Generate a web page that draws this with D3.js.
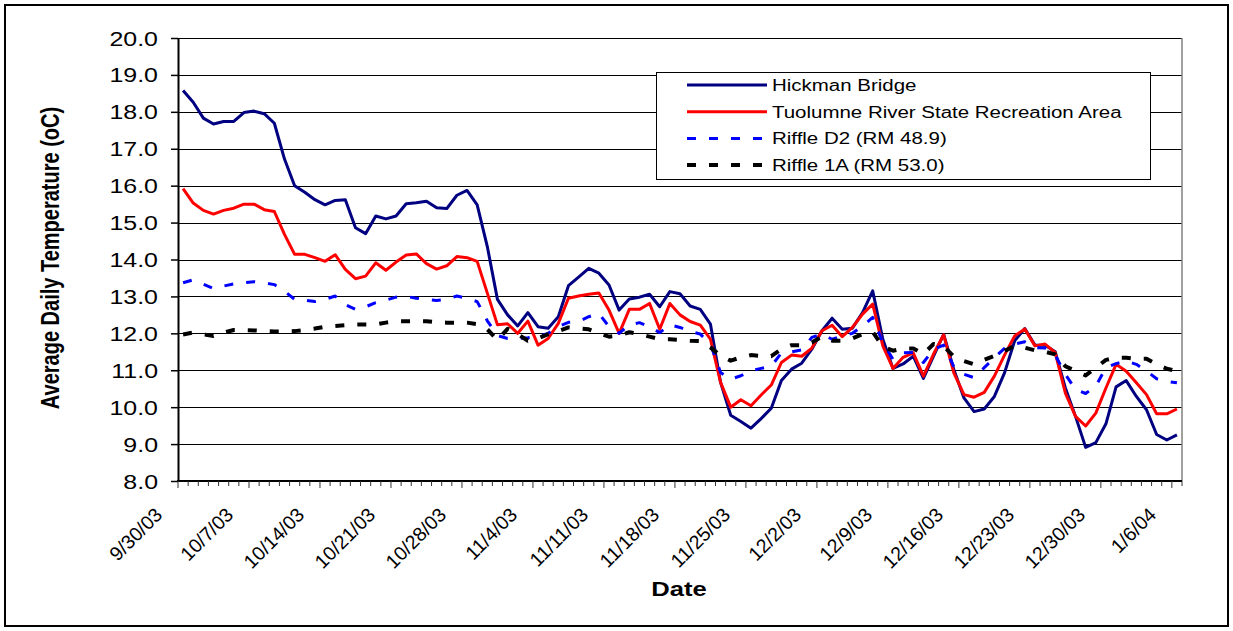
<!DOCTYPE html>
<html>
<head>
<meta charset="utf-8">
<script src="https://cdn.jsdelivr.net/npm/d3@7"></script>
<style>
  html, body { margin: 0; padding: 0; background: #fff; }
  svg { display: block; font-family: 'Liberation Sans', Arial, sans-serif; }
</style>
</head>
<body>
<div id="chart"></div>
<script>
// daily averages, 9/30/03 .. 1/6/04
const startDate = new Date(2003, 8, 30);
const dayCount = 99;

const hickman = [
  18.58, 18.26, 17.83, 17.67, 17.74, 17.74, 17.98, 18.02, 17.95, 17.69,
  16.72, 16.00, 15.82, 15.62, 15.48, 15.60, 15.62, 14.86, 14.70, 15.18,
  15.10, 15.18, 15.51, 15.54, 15.58, 15.40, 15.38, 15.74, 15.87, 15.48,
  14.35, 12.92, 12.50, 12.20, 12.56, 12.18, 12.14, 12.45, 13.29, 13.52,
  13.76, 13.63, 13.31, 12.63, 12.93, 12.98, 13.06, 12.72, 13.13, 13.07,
  12.74, 12.65, 12.25, 10.67, 9.78, 9.61, 9.43, 9.69, 9.97, 10.72,
  11.03, 11.19, 11.57, 12.07, 12.41, 12.11, 12.14, 12.56, 13.15, 11.84,
  11.05, 11.17, 11.38, 10.78, 11.38, 11.97, 11.02, 10.25, 9.88, 9.95,
  10.29, 10.93, 11.80, 12.13, 11.68, 11.68, 11.50, 10.52, 9.75, 8.91,
  9.04, 9.55, 10.55, 10.72, 10.29, 9.93, 9.26, 9.11, 9.25
];
const tuolumne = [
  15.92, 15.53, 15.33, 15.23, 15.33, 15.39, 15.50, 15.50, 15.35, 15.30,
  14.68, 14.14, 14.14, 14.05, 13.95, 14.13, 13.73, 13.48, 13.55, 13.91,
  13.71, 13.93, 14.12, 14.15, 13.89, 13.74, 13.83, 14.08, 14.05, 13.95,
  13.09, 12.23, 12.26, 12.00, 12.33, 11.68, 11.86, 12.27, 12.95, 13.01,
  13.06, 13.09, 12.63, 12.00, 12.65, 12.65, 12.81, 12.11, 12.81, 12.50,
  12.32, 12.22, 11.84, 10.67, 10.00, 10.20, 10.04, 10.33, 10.60, 11.21,
  11.41, 11.38, 11.60, 12.07, 12.22, 11.91, 12.16, 12.52, 12.79, 11.66,
  11.05, 11.35, 11.47, 10.84, 11.44, 11.96, 10.93, 10.34, 10.27, 10.40,
  10.84, 11.41, 11.93, 12.12, 11.66, 11.71, 11.48, 10.38, 9.75, 9.49,
  9.84, 10.52, 11.16, 10.97, 10.66, 10.34, 9.82, 9.82, 9.95
];
const riffleD2 = [
  13.37, 13.45, 13.33, 13.21, 13.28, 13.34, 13.37, 13.40, 13.37, 13.32,
  13.14, 12.92, 12.90, 12.86, 12.92, 13.01, 12.78, 12.65, 12.72, 12.83,
  12.90, 12.98, 13.00, 12.95, 12.92, 12.89, 12.92, 13.01, 12.95, 12.86,
  12.34, 11.94, 11.86, 11.86, 11.88, 11.91, 12.00, 12.18, 12.30, 12.32,
  12.45, 12.54, 12.18, 12.00, 12.23, 12.29, 12.18, 12.02, 12.23, 12.16,
  12.05, 11.98, 11.71, 10.94, 10.76, 10.85, 10.99, 11.05, 11.11, 11.47,
  11.50, 11.55, 11.89, 11.98, 11.84, 11.93, 12.00, 12.20, 12.43, 11.75,
  11.30, 11.47, 11.48, 11.21, 11.57, 11.68, 11.10, 10.89, 10.80, 11.07,
  11.34, 11.59, 11.71, 11.77, 11.61, 11.60, 11.41, 10.89, 10.48, 10.37,
  10.57, 11.07, 11.18, 11.25, 11.16, 10.98, 10.77, 10.70, 10.66
];
const riffle1A = [
  11.97, 12.02, 11.97, 11.93, 12.02, 12.09, 12.09, 12.08, 12.06, 12.05,
  12.05, 12.06, 12.09, 12.13, 12.18, 12.20, 12.22, 12.24, 12.24, 12.24,
  12.29, 12.33, 12.33, 12.33, 12.33, 12.30, 12.29, 12.29, 12.29, 12.25,
  12.11, 11.82, 12.12, 11.98, 11.80, 11.86, 11.98, 12.06, 12.16, 12.13,
  12.11, 12.00, 11.91, 11.94, 12.03, 11.98, 11.91, 11.84, 11.84, 11.82,
  11.80, 11.79, 11.62, 11.39, 11.26, 11.35, 11.41, 11.39, 11.38, 11.57,
  11.68, 11.68, 11.75, 11.91, 11.80, 11.80, 11.86, 11.98, 12.04, 11.64,
  11.53, 11.59, 11.59, 11.44, 11.71, 11.65, 11.37, 11.25, 11.16, 11.28,
  11.39, 11.52, 11.66, 11.61, 11.54, 11.50, 11.43, 11.11, 10.98, 10.86,
  11.07, 11.28, 11.34, 11.34, 11.31, 11.31, 11.16, 11.04, 10.98
];

const seriesNames = [
  'Hickman Bridge',
  'Tuolumne River State Recreation Area',
  'Riffle D2 (RM 48.9)',
  'Riffle 1A (RM 53.0)'
];
const weekLabels = [
  '9/30/03', '10/7/03', '10/14/03', '10/21/03', '10/28/03', '11/4/03', '11/11/03',
  '11/18/03', '11/25/03', '12/2/03', '12/9/03', '12/16/03', '12/23/03', '12/30/03', '1/6/04'
];
const yTicks = [8, 9, 10, 11, 12, 13, 14, 15, 16, 17, 18, 19, 20];

// the source image is stretched sideways, so most text is too
const SX = 1.28;

const width = 1233, height = 631;
const plotLeft = 178, plotRight = 1182, plotTop = 38, plotBottom = 481;

const svg = d3.select('#chart').append('svg')
  .attr('width', width)
  .attr('height', height);

// outer frame
svg.append('rect')
  .attr('x', 5).attr('y', 5)
  .attr('width', 1223).attr('height', 621)
  .attr('fill', 'white')
  .attr('stroke', 'black')
  .attr('stroke-width', 2);

const endDate = d3.timeDay.offset(startDate, dayCount);
const days = d3.timeDay.range(startDate, endDate);
const x = d3.scaleTime()
  .domain([startDate, endDate])
  .range([plotLeft, plotRight]);
const mid = d => d3.timeHour.offset(d, 12);

const y = d3.scaleLinear()
  .domain([8, 20])
  .range([plotBottom, plotTop]);

// gridlines
svg.append('g')
  .selectAll('line')
  .data(yTicks)
  .enter()
  .append('line')
  .attr('x1', plotLeft).attr('x2', plotRight)
  .attr('y1', d => Math.round(y(d)) + 0.5)
  .attr('y2', d => Math.round(y(d)) + 0.5)
  .attr('stroke', 'black')
  .attr('stroke-width', 1);

// right edge of plot area
svg.append('line')
  .attr('x1', plotRight).attr('x2', plotRight)
  .attr('y1', plotTop).attr('y2', plotBottom)
  .attr('stroke', '#808080')
  .attr('stroke-width', 1.5);

// y axis
const yAxis = svg.append('g')
  .attr('transform', `translate(${plotLeft},0)`)
  .call(d3.axisLeft(y).tickValues(yTicks).tickSize(7).tickSizeOuter(0).tickFormat(d3.format('.1f')));
yAxis.attr('font-family', null).attr('font-size', null);
yAxis.select('.domain').attr('stroke-width', 2);
yAxis.selectAll('.tick line').attr('stroke-width', 1.5);
yAxis.selectAll('.tick text')
  .attr('x', null).attr('dy', null)
  .attr('font-size', '19.5px')
  .attr('fill', 'black')
  .attr('text-anchor', 'end')
  .attr('transform', `translate(-20,7) scale(${SX},1)`);

// x axis: a tick for each day, longer ones for each week
const xAxis = svg.append('g')
  .attr('transform', `translate(0,${plotBottom})`);
xAxis.append('line')
  .attr('x1', plotLeft - 1).attr('x2', plotRight)
  .attr('stroke', 'black')
  .attr('stroke-width', 2);
xAxis.selectAll('.minor')
  .data(days.concat([endDate]))
  .enter()
  .append('line')
  .attr('x1', d => x(d)).attr('x2', d => x(d))
  .attr('y1', 0).attr('y2', (d, i) => i % 7 === 0 ? 7 : 5)
  .attr('stroke', '#333')
  .attr('stroke-width', 1);

// slanted date labels, 45 degrees on screen
xAxis.selectAll('.lab')
  .data(weekLabels)
  .enter()
  .append('text')
  .attr('font-size', '19.5px')
  .attr('text-anchor', 'end')
  .attr('transform', (d, i) => {
    const tx = x(d3.timeDay.offset(startDate, i * 7)) - 14.5;
    return `translate(${tx},35) rotate(-45)`;
  })
  .text(d => d);

// axis titles
svg.append('text')
  .attr('font-size', '20px')
  .attr('font-weight', 'bold')
  .attr('text-anchor', 'middle')
  .attr('transform', `translate(679,596) scale(${SX},1)`)
  .text('Date');

svg.append('text')
  .attr('font-size', '20px')
  .attr('font-weight', 'bold')
  .attr('text-anchor', 'middle')
  .attr('transform', `translate(59,258) scale(${SX},1) rotate(-90)`)
  .text('Average Daily Temperature (oC)');

// series
const styles = [
  { color: '#000080', width: 3, dash: null },
  { color: '#ff0000', width: 3, dash: null },
  { color: '#0000ff', width: 3, dash: '9,13' },
  { color: '#000000', width: 4, dash: '9,13' }
];
const allSeries = [hickman, tuolumne, riffleD2, riffle1A];

const line = d3.line()
  .x((d, i) => x(mid(days[i])))
  .y(d => y(d));

allSeries.forEach((vals, k) => {
  svg.append('path')
    .datum(vals)
    .attr('fill', 'none')
    .attr('stroke', styles[k].color)
    .attr('stroke-width', styles[k].width)
    .attr('stroke-dasharray', styles[k].dash)
    .attr('stroke-linejoin', 'round')
    .attr('d', line);
});

// legend
const legend = svg.append('g');
legend.append('rect')
  .attr('x', 656.5).attr('y', 72.5)
  .attr('width', 494).attr('height', 107)
  .attr('fill', 'white')
  .attr('stroke', 'black')
  .attr('stroke-width', 1);

const rows = legend.selectAll('.row')
  .data(seriesNames)
  .enter()
  .append('g')
  .attr('transform', (d, i) => `translate(0,${85 + i * 26.7})`);
rows.append('line')
  .attr('x1', 687).attr('x2', 767)
  .attr('stroke', (d, i) => styles[i].color)
  .attr('stroke-width', (d, i) => styles[i].width)
  .attr('stroke-dasharray', (d, i) => styles[i].dash);
rows.append('text')
  .attr('font-size', '16px')
  .attr('transform', `translate(772,6) scale(${SX},1)`)
  .text(d => d);
</script>
</body>
</html>
